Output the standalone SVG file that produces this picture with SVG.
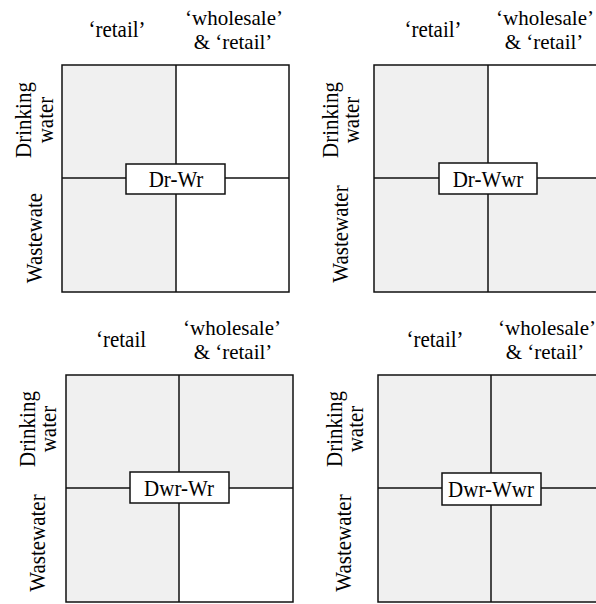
<svg xmlns="http://www.w3.org/2000/svg" width="596" height="604" viewBox="0 0 596 604">
<style>
text{font-family:"Liberation Serif","Times New Roman",serif;font-size:21px;fill:#000;text-anchor:middle}
.sh{fill:#f0f0f0;stroke:none}
.wh{fill:#fff;stroke:none}
.bd{fill:none;stroke:#111;stroke-width:1.5}
.ln{stroke:#111;stroke-width:1.5;fill:none}
.lb{fill:#fff;stroke:#111;stroke-width:1.5}
</style>
<rect width="596" height="604" fill="#fff"/>

<!-- Panel 1 -->
<g id="panel-dr-wr">
<rect class="sh" x="62" y="65" width="114" height="227"/>
<rect class="wh" x="176" y="65" width="113" height="227"/>
<rect class="bd" x="62" y="65" width="227" height="227"/>
<text transform="translate(117,37) scale(1,1.12)">‘retail’</text>
<text x="234" y="25">‘wholesale’</text>
<text x="233" y="49">&amp; ‘retail’</text>
<text transform="translate(31,120) rotate(-90) scale(1,1.12)"><tspan x="0" y="0">Drinking</tspan><tspan x="0" y="19.6">water</tspan></text>
<text transform="translate(42,238) rotate(-90) scale(1,1.12)">Wastewate</text>
</g>

<!-- Panel 2 -->
<g id="panel-dr-wwr">
<rect class="sh" x="374" y="65" width="228" height="227"/>
<rect class="wh" x="488" y="65" width="114" height="113"/>
<rect class="bd" x="374" y="65" width="228" height="227"/>
<text transform="translate(433,37) scale(1,1.12)">‘retail’</text>
<text x="545" y="25">‘wholesale’</text>
<text x="544" y="49">&amp; ‘retail’</text>
<text transform="translate(338,120) rotate(-90) scale(1,1.12)"><tspan x="0" y="0">Drinking</tspan><tspan x="0" y="18.75">water</tspan></text>
<text transform="translate(348,234) rotate(-90) scale(1,1.12)">Wastewater</text>
</g>

<!-- Panel 3 -->
<g id="panel-dwr-wr">
<rect class="sh" x="66" y="375" width="227" height="227"/>
<rect class="wh" x="179" y="488" width="114" height="114"/>
<rect class="bd" x="66" y="375" width="227" height="227"/>
<text transform="translate(121,347) scale(1,1.12)">‘retail</text>
<text x="232" y="335">‘wholesale’</text>
<text x="233" y="359">&amp; ‘retail’</text>
<text transform="translate(35,429) rotate(-90) scale(1,1.12)"><tspan x="0" y="0">Drinking</tspan><tspan x="0" y="18.75">water</tspan></text>
<text transform="translate(45,543) rotate(-90) scale(1,1.12)">Wastewater</text>
</g>

<!-- Panel 4 -->
<g id="panel-dwr-wwr">
<rect class="sh" x="378" y="375" width="228" height="227"/>
<rect class="bd" x="378" y="375" width="228" height="227"/>
<text transform="translate(435,347) scale(1,1.12)">‘retail’</text>
<text x="547" y="335">‘wholesale’</text>
<text x="545" y="359">&amp; ‘retail’</text>
<text transform="translate(342,429) rotate(-90) scale(1,1.12)"><tspan x="0" y="0">Drinking</tspan><tspan x="0" y="18.75">water</tspan></text>
<text transform="translate(351,543) rotate(-90) scale(1,1.12)">Wastewater</text>
</g>

<!-- Connectors: quadrant dividers -->
<g id="connectors">
<line class="ln" x1="176" y1="65" x2="176" y2="292"/>
<line class="ln" x1="62" y1="178" x2="289" y2="178"/>
<line class="ln" x1="488" y1="65" x2="488" y2="292"/>
<line class="ln" x1="374" y1="178" x2="602" y2="178"/>
<line class="ln" x1="179" y1="375" x2="179" y2="602"/>
<line class="ln" x1="66" y1="488" x2="293" y2="488"/>
<line class="ln" x1="491" y1="375" x2="491" y2="602"/>
<line class="ln" x1="378" y1="488" x2="606" y2="488"/>
</g>

<!-- Label nodes -->
<g id="node-dr-wr">
<rect class="lb" x="126" y="164" width="99" height="30"/>
<text transform="translate(176,187) scale(1,1.12)">Dr-Wr</text>
</g>
<g id="node-dr-wwr">
<rect class="lb" x="439" y="163" width="98" height="31"/>
<text transform="translate(488,187) scale(1,1.12)">Dr-Wwr</text>
</g>
<g id="node-dwr-wr">
<rect class="lb" x="130" y="472" width="99" height="31"/>
<text transform="translate(179,496) scale(1,1.12)">Dwr-Wr</text>
</g>
<g id="node-dwr-wwr">
<rect class="lb" x="442" y="473" width="99" height="32"/>
<text transform="translate(491,497) scale(1,1.12)">Dwr-Wwr</text>
</g>
</svg>
